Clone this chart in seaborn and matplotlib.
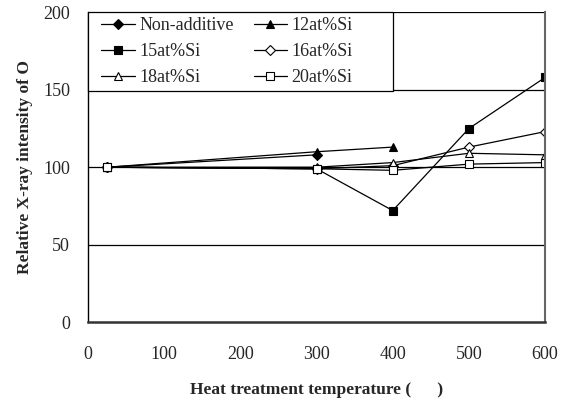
import matplotlib
matplotlib.use("Agg")
import matplotlib.pyplot as plt
from matplotlib.patches import Rectangle
import seaborn as sns
import pandas as pd

# Heat treatment temperatures (deg C) and relative O X-ray intensity per alloy
temps_non = [25, 300]
non_additive = [100, 108]
temps_12 = [25, 300, 400]
si12 = [100, 110, 113]
temps = [25, 300, 400, 500, 600]
si15 = [100, 99, 72, 125, 158]
si16 = [100, 99, 101, 113, 123]
si18 = [100, 100, 103, 109, 108]
si20 = [100, 99, 98, 102, 103]

series = [
    ("Non-additive", temps_non, non_additive, "D", "black"),
    ("12at%Si", temps_12, si12, "^", "black"),
    ("15at%Si", temps, si15, "s", "black"),
    ("16at%Si", temps, si16, "D", "white"),
    ("18at%Si", temps, si18, "^", "white"),
    ("20at%Si", temps, si20, "s", "white"),
]

sns.set_theme(style="white")
plt.rcParams["font.family"] = ["Liberation Serif", "DejaVu Serif"]

fig = plt.figure(figsize=(5.69, 4.01), dpi=100)
ax = fig.add_axes([0.1547, 0.197, 0.8033, 0.772])

for label, x, y, mk, fc in series:
    df = pd.DataFrame({"temp": x, "val": y})
    sns.lineplot(data=df, x="temp", y="val", ax=ax, color="black", lw=0.9,
                 marker=mk, markersize=5.5 if mk != "D" else 5,
                 markerfacecolor=fc, markeredgecolor="black", markeredgewidth=0.8,
                 label=label)

ax.set_xlim(0, 600)
ax.set_ylim(0, 200)
ax.set_xticks(range(0, 601, 100))
ax.set_yticks(range(0, 201, 50))
for yv in (50, 100, 150, 200):
    ax.axhline(yv, color="black", lw=0.9, zorder=0.5)

ax.tick_params(axis="x", direction="in", length=4, width=0.8, color="black",
               labelsize=13, pad=17)
ax.tick_params(axis="y", length=0, labelsize=13, pad=13)

ax.spines["top"].set_visible(False)
ax.spines["left"].set_color("black")
ax.spines["left"].set_linewidth(1.0)
ax.spines["bottom"].set_color("#333333")
ax.spines["bottom"].set_linewidth(1.8)
ax.spines["right"].set_color("#666666")
ax.spines["right"].set_linewidth(1.5)

ax.set_xlabel("Heat treatment temperature (      )", fontsize=12.5, fontweight="bold", labelpad=14)
ax.set_ylabel("Relative X-ray intensity of O", fontsize=12.5, fontweight="bold", labelpad=7)

# Legend box: white rectangle with black border in the upper-left corner
ax.add_patch(Rectangle((0.0, 0.746), 0.667, 0.254, transform=ax.transAxes,
                       facecolor="white", edgecolor="black", lw=0.9,
                       zorder=4.5, clip_on=False))

handles, labels = ax.get_legend_handles_labels()
order = [0, 2, 4, 1, 3, 5]
leg = ax.legend([handles[i] for i in order], [labels[i] for i in order],
                ncol=2, loc="upper left", bbox_to_anchor=(0.029, 0.984),
                fontsize=13, frameon=False, borderpad=0.0,
                handlelength=1.85, handletextpad=0.25,
                labelspacing=0.5, columnspacing=1.1, borderaxespad=0)
leg.set_zorder(5)

fig.savefig("out.png", dpi=100)
